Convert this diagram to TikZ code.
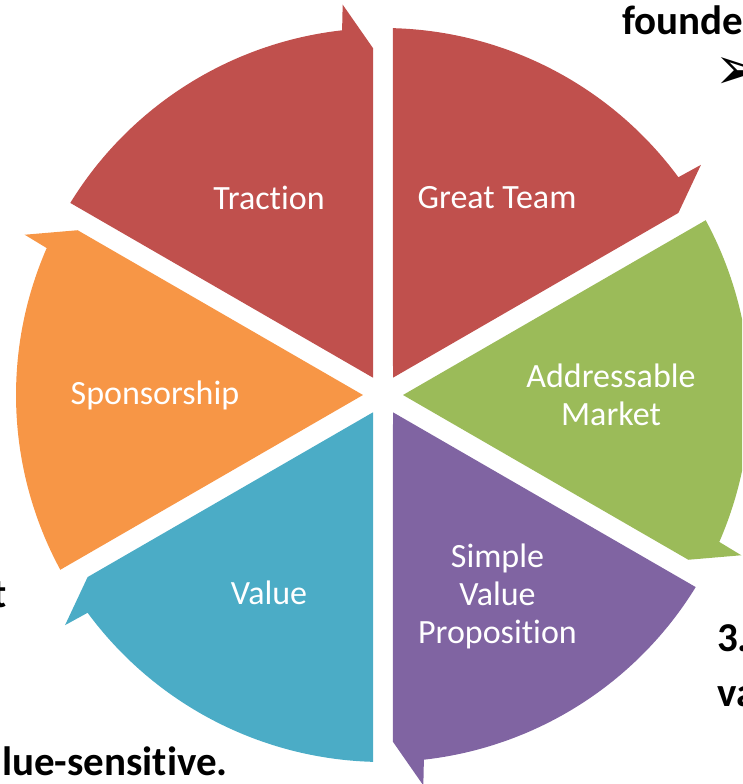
\documentclass[tikz,border=0pt]{standalone}
\usepackage{fontspec}
\setmainfont{Carlito}[Ligatures={NoCommon}]
\newfontfamily\symfont{DejaVu Sans}
\definecolor{segred}{HTML}{C0504D}
\definecolor{seggreen}{HTML}{9BBB59}
\definecolor{segpurple}{HTML}{8064A2}
\definecolor{segteal}{HTML}{4BACC6}
\definecolor{segorange}{HTML}{F79646}
\begin{document}
\begin{tikzpicture}[x=1pt,y=1pt,
  seglabel/.style={text=white, font=\fontsize{34}{38}\selectfont, align=center, inner sep=0pt},
  sidetext/.style={font=\fontsize{41}{48}\selectfont\bfseries, inner sep=0pt, text=black}]
\useasboundingbox (-383,-389) rectangle (359,395);
\clip (-383,-389) rectangle (359,395);
\foreach \a/\c in {90/segred, 30/seggreen, -30/segpurple, -90/segteal, -150/segorange, 150/segred}{
  \pgfmathsetmacro\sa{\a-1.56}
  \pgfmathsetmacro\ea{\a-60+6.4}
  \pgfmathsetmacro\ta{\a-60+5.9}
  \pgfmathsetmacro\ia{\a-60+1.65}
  \pgfmathsetmacro\ca{\a-30}
  \fill[\c] (\sa:367) arc[start angle=\sa, end angle=\ea, radius=367]
    -- (\ta:392.5) -- (\ia:347) -- (\ca:20) -- cycle;
}
\node[seglabel] (gt) at (60:228) {Great Team};
\node[seglabel] (am) at (0:228) {Addressable\\Market};
\node[seglabel, yshift=-3pt] (svp) at (-60:229) {Simple\\Value\\Proposition};
\node[seglabel] (val) at (-120:228) {Value};
\node[seglabel] (sp) at (180:228) {Sponsorship};
\node[seglabel] (tr) at (120:228) {Traction};
\node[sidetext, anchor=base west] (t1) at (239,360) {founde};
\node[inner sep=0pt, anchor=west, font=\symfont\fontsize{60}{62}\selectfont] (t2) at (331,321) {➢};
\node[sidetext, anchor=base east] (t3) at (-376,-212) {t};
\node[sidetext, anchor=base west] (t4) at (334,-256) {3.};
\node[sidetext, anchor=base west] (t5) at (334,-311) {va};
\node[sidetext, anchor=base west] (t6) at (-381,-380) {lue-sensitive.};
\end{tikzpicture}
\end{document}
